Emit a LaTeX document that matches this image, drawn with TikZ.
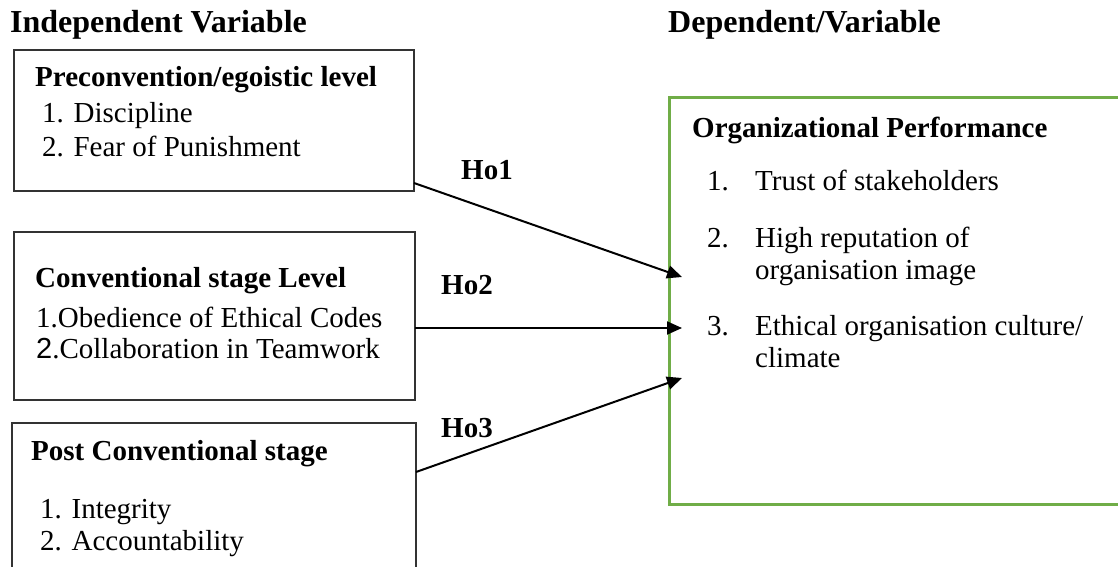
\documentclass[tikz,border=0pt]{standalone}
\usepackage{fontspec}
\setmainfont{Liberation Serif}
\newfontfamily\sansfam{Liberation Sans}
\usetikzlibrary{arrows.meta}
\definecolor{dvgreen}{RGB}{112,173,71}
\begin{document}
\begin{tikzpicture}[x=1pt,y=-1pt,
  txt/.style={anchor=base west, inner sep=0pt, font=\fontsize{29}{33}\selectfont},
  hd/.style={anchor=base west, inner sep=0pt, font=\fontsize{29}{33}\selectfont\bfseries},
  ttl/.style={anchor=base west, inner sep=0pt, font=\fontsize{32}{36}\selectfont\bfseries},
  ivbox/.style={draw=black!80, line width=1.5pt, inner sep=0pt, outer sep=0pt, anchor=north west},
  dvbox/.style={draw=dvgreen, line width=3pt, inner sep=0pt, outer sep=0pt, anchor=north west},
  link/.style={line width=2pt, -{Triangle[length=15pt,width=13pt]}},
  hyp/.style={font=\fontsize{29}{33}\selectfont\bfseries, inner sep=0pt}
]
\clip (0,0) rectangle (1118,567);
\fill[white] (0,0) rectangle (1118,567);

% titles
\node[ttl] (tiv) at (10,33) {Independent Variable};
\node[ttl] (tdv) at (668,33) {Dependent/Variable};

% boxes
\node[ivbox, minimum width=400pt, minimum height=141pt] (b1) at (14,50) {};
\node[ivbox, minimum width=401pt, minimum height=168pt] (b2) at (14,232) {};
\node[ivbox, minimum width=404pt, minimum height=170pt] (b3) at (12,423) {};
\node[dvbox, minimum width=480pt, minimum height=406pt] (dv) at (669,98) {};

% box 1 text
\node[hd] (h1) at (35,87) {Preconvention/egoistic level};
\node[txt] (i11) at (42,122) {1. Discipline};
\node[txt] (i12) at (42,156) {2. Fear of Punishment};

% box 2 text
\node[hd] (h2) at (35,287) {Conventional stage Level};
\node[txt] (i21) at (36,327) {1.Obedience of Ethical Codes};
\node[txt] (i22) at (36,358) {{\sansfam 2}.Collaboration in Teamwork};

% box 3 text
\node[hd] (h3) at (31,460) {Post Conventional stage};
\node[txt] (i31) at (40,518) {1. Integrity};
\node[txt] (i32) at (40,550) {2. Accountability};

% dependent box text
\node[hd] (hd4) at (692,137) {Organizational Performance};
\node[txt] (n1) at (707,190) {1.};
\node[txt] (d1) at (755,190) {Trust of stakeholders};
\node[txt] (n2) at (707,247) {2.};
\node[txt] (d2a) at (755,247) {High reputation of};
\node[txt] (d2b) at (755,279) {organisation image};
\node[txt] (n3) at (707,335) {3.};
\node[txt] (d3a) at (755,335) {Ethical organisation culture/};
\node[txt] (d3b) at (755,367) {climate};

% connectors
\coordinate (s1) at ([yshift=8pt]b1.south east);
\coordinate (s2) at ([yshift=-12pt]b2.east);
\coordinate (s3) at ([yshift=-49pt]b3.north east);
\coordinate (e1) at ([xshift=13pt,yshift=-179pt]dv.north west);
\coordinate (e2) at ([xshift=13pt,yshift=-230pt]dv.north west);
\coordinate (e3) at ([xshift=13pt,yshift=-280pt]dv.north west);
\draw[link] (s1) -- (e1);
\draw[link] (s2) -- (e2);
\draw[link] (s3) -- (e3);

% hypothesis labels
\node[hyp] (ho1) at (487,170) {Ho1};
\node[hyp] (ho2) at (467,285) {Ho2};
\node[hyp] (ho3) at (467,428) {Ho3};
\end{tikzpicture}
\end{document}
